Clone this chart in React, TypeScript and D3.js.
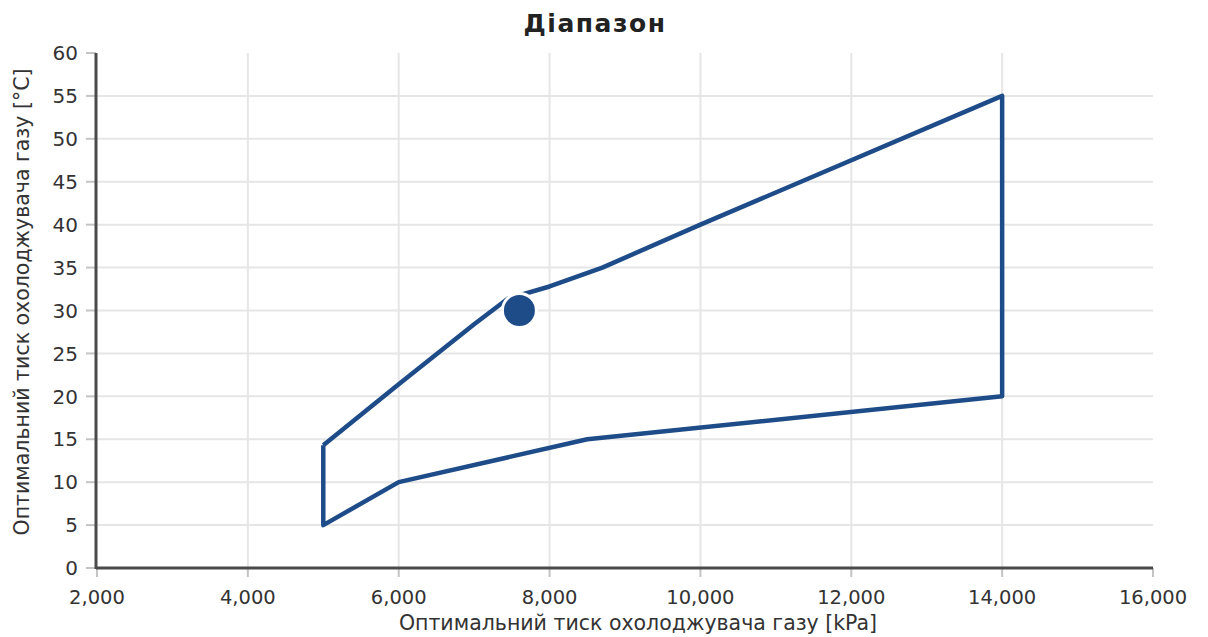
import { useEffect, useRef } from 'react';
import * as d3 from 'd3';

// Range boundary (pressure kPa, temperature °C), closed polygon
const boundaryPressure = [5000, 6000, 7000, 7450, 8000, 8700, 10000, 14000, 14000, 8500, 6000, 5000, 5000];
const boundaryTemperature = [14.3, 21.4, 28.4, 31.4, 32.8, 35.0, 40.0, 55.0, 20.0, 15.0, 10.0, 5.0, 14.3];

// Operating point
const pointPressure = [7600];
const pointTemperature = [30];

const xTicks = [2000, 4000, 6000, 8000, 10000, 12000, 14000, 16000];
const yTicks = [0, 5, 10, 15, 20, 25, 30, 35, 40, 45, 50, 55, 60];

const title = 'Діапазон';
const xTitle = 'Оптимальний тиск охолоджувача газу [kPa]';
const yTitle = 'Оптимальний тиск охолоджувача газу [°C]';

const App = () => {
    const svgRef = useRef<SVGSVGElement | null>(null);

    useEffect(() => {
        if (!svgRef.current) return;
        const svg = d3.select(svgRef.current);
        svg.selectAll('*').remove();

        const left = 96, right = 1153, top = 53, bottom = 568;
        const blue = '#1e4c89';
        const font = '"DejaVu Sans", Verdana, sans-serif';

        const x = d3.scaleLinear().domain([2000, 16000]).range([left + 1, right]);
        const y = d3.scaleLinear().domain([0, 60]).range([bottom, top]);

        // grid
        svg.append('g')
            .selectAll('line')
            .data(xTicks.slice(1, -1))
            .enter()
            .append('line')
            .attr('x1', d => x(d)).attr('x2', d => x(d))
            .attr('y1', top).attr('y2', bottom)
            .attr('stroke', '#e6e6e6').attr('stroke-width', 2);

        svg.append('g')
            .selectAll('line')
            .data(yTicks.slice(1, -1))
            .enter()
            .append('line')
            .attr('x1', left).attr('x2', right)
            .attr('y1', d => y(d)).attr('y2', d => y(d))
            .attr('stroke', '#e6e6e6').attr('stroke-width', 2);

        // ticks
        svg.append('g')
            .selectAll('line')
            .data(yTicks)
            .enter()
            .append('line')
            .attr('x1', left - 10).attr('x2', left)
            .attr('y1', d => y(d)).attr('y2', d => y(d))
            .attr('stroke', '#c4c4c4').attr('stroke-width', 2);

        svg.append('g')
            .selectAll('line')
            .data(xTicks)
            .enter()
            .append('line')
            .attr('x1', d => x(d)).attr('x2', d => x(d))
            .attr('y1', bottom).attr('y2', bottom + 9)
            .attr('stroke', '#c4c4c4').attr('stroke-width', 2);

        // axis lines
        svg.append('line')
            .attr('x1', left).attr('x2', left)
            .attr('y1', top).attr('y2', bottom + 1)
            .attr('stroke', '#4a4a4a').attr('stroke-width', 3);
        svg.append('line')
            .attr('x1', left).attr('x2', right)
            .attr('y1', bottom).attr('y2', bottom)
            .attr('stroke', '#4a4a4a').attr('stroke-width', 3);

        // tick labels
        svg.append('g')
            .selectAll('text')
            .data(yTicks)
            .enter()
            .append('text')
            .attr('x', left - 18)
            .attr('y', d => y(d))
            .attr('dy', '0.36em')
            .attr('text-anchor', 'end')
            .attr('font-family', font)
            .attr('font-size', 20)
            .attr('fill', '#333')
            .text(d => d);

        svg.append('g')
            .selectAll('text')
            .data(xTicks)
            .enter()
            .append('text')
            .attr('x', d => x(d))
            .attr('y', 604)
            .attr('text-anchor', 'middle')
            .attr('font-family', font)
            .attr('font-size', 19.5)
            .attr('fill', '#333')
            .text(d => d3.format(',')(d));

        // boundary
        const pts = boundaryPressure.map((p, i) => [p, boundaryTemperature[i]] as [number, number]);
        const line = d3.line<[number, number]>().x(d => x(d[0])).y(d => y(d[1]));
        svg.append('path')
            .attr('d', line(pts))
            .attr('fill', 'none')
            .attr('stroke', blue)
            .attr('stroke-width', 4.5)
            .attr('stroke-linejoin', 'round');

        // operating point
        svg.append('g')
            .selectAll('circle')
            .data(pointPressure.map((p, i) => [p, pointTemperature[i]]))
            .enter()
            .append('circle')
            .attr('cx', d => x(d[0]))
            .attr('cy', d => y(d[1]))
            .attr('r', 17)
            .attr('fill', blue)
            .attr('stroke', '#fff')
            .attr('stroke-width', 3);

        // titles
        svg.append('text')
            .attr('x', 595).attr('y', 32)
            .attr('text-anchor', 'middle')
            .attr('font-family', font)
            .attr('font-size', 25)
            .attr('font-weight', 700)
            .attr('letter-spacing', 1.5)
            .attr('fill', '#222')
            .text(title);

        svg.append('text')
            .attr('x', 638).attr('y', 630)
            .attr('text-anchor', 'middle')
            .attr('font-family', font)
            .attr('font-size', 20.5)
            .attr('fill', '#333')
            .text(xTitle);

        svg.append('text')
            .attr('transform', 'translate(29,302) rotate(-90)')
            .attr('text-anchor', 'middle')
            .attr('font-family', font)
            .attr('font-size', 20.5)
            .attr('fill', '#333')
            .text(yTitle);
    }, []);

    return (
        <div style={{ position: 'absolute', left: 0, top: 0, width: 1208, height: 637, background: '#fff' }}>
            <svg ref={svgRef} width={1208} height={637} style={{ display: 'block' }}></svg>
        </div>
    );
};

export default App;
